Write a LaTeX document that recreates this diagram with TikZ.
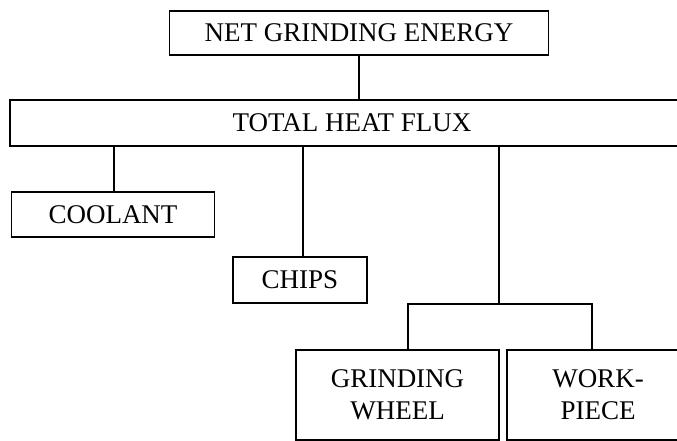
\documentclass[tikz,border=0pt]{standalone}
\usepackage{fontspec}
\setmainfont{Liberation Serif}
\usetikzlibrary{positioning,calc}

\begin{document}
\begin{tikzpicture}[
  x=1pt, y=-1pt,
  every node/.style={font=\fontsize{27}{32}\selectfont},
  box/.style={draw, line width=1.8pt, align=center, inner sep=0pt},
  link/.style={line width=1.8pt},
]
\useasboundingbox (0,0) rectangle (677,440);
\clip (0,0) rectangle (677,440);

\node[box, minimum width=379pt, minimum height=44pt] (energy) at (359,33) {NET GRINDING ENERGY};
\node[box, minimum width=684pt, minimum height=46pt] (flux) at (352,123) {TOTAL HEAT FLUX};

\node[box, minimum width=203pt, minimum height=45pt] (coolant) at (113,214.5) {COOLANT};
\node[box, minimum width=134pt, minimum height=46pt] (chips) at (300,280) {CHIPS};

% boxes run off the bottom and right edges
\node[box, minimum width=203pt, minimum height=90pt] (wheel) at (397.5,395) {GRINDING\\WHEEL};
\node[box, minimum width=182pt, minimum height=90pt] (work) at (598,395) {WORK-\\PIECE};

\coordinate (split) at (499,304);
\coordinate (wl) at (408,304);
\coordinate (wr) at (592,304);

\draw[link] (energy.south) -- (flux.north -| energy.south);
\draw[link] ($(flux.south -| coolant.north)+(1,0)$) -- ($(coolant.north)+(1,0)$);
\draw[link] ($(flux.south -| chips.north)+(3,0)$) -- ($(chips.north)+(3,0)$);
\draw[link] (flux.south -| split) -- (split);
\draw[link] (wl |- wheel.north) -- (wl) -- (wr) -- (wr |- work.north);

\end{tikzpicture}
\end{document}
